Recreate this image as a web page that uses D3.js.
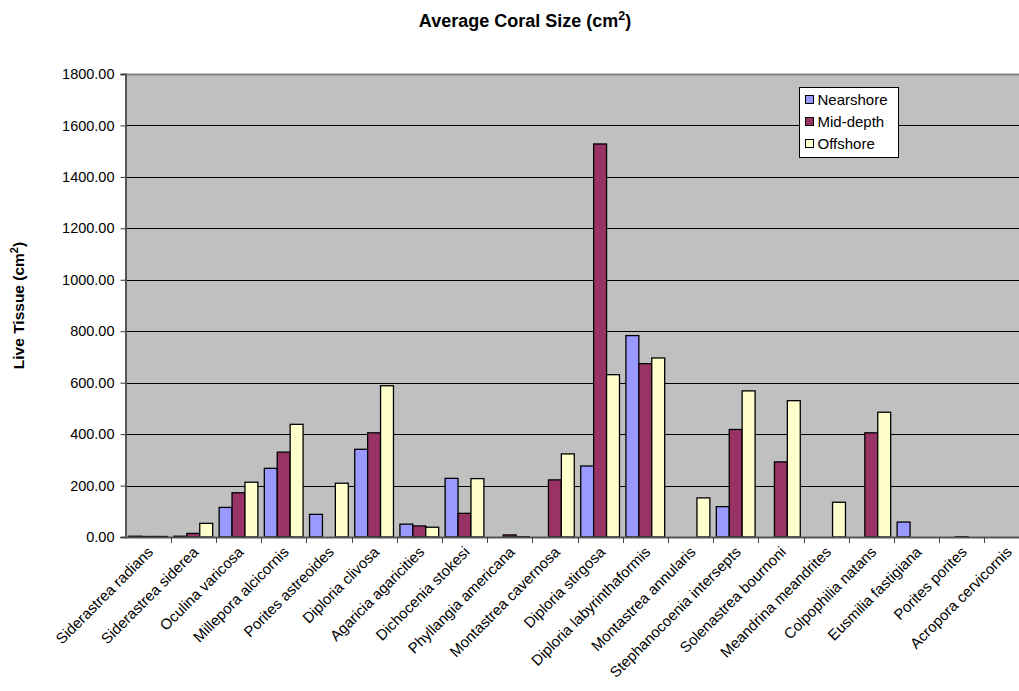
<!DOCTYPE html>
<html>
<head>
<meta charset="utf-8">
<script src="https://cdn.jsdelivr.net/npm/d3@7"></script>
<style>
  html, body { margin: 0; padding: 0; background: #ffffff; }
  svg { display: block; font-family: "Liberation Sans", Arial, sans-serif; }
</style>
</head>
<body>
<svg id="chart" width="1019" height="691"></svg>
<script>
// Coral species surveyed
const categories = [
  "Siderastrea radians", "Siderastrea siderea", "Oculina varicosa", "Millepora alcicornis",
  "Porites astreoides", "Diploria clivosa", "Agaricia agaricities", "Dichocenia stokesi",
  "Phyllangia americana", "Montastrea cavernosa", "Diploria stirgosa", "Diploria labyrinthaformis",
  "Montastrea annularis", "Stephanocoenia intersepts", "Solenastrea bournoni", "Meandrina meandrites",
  "Colpophilia natans", "Eusmilia fastigiana", "Porites porites", "Acropora cervicornis"
];

// Average live tissue per zone (cm²)
const nearshore = [3, 3, 115, 267, 88, 341, 50, 228, 0, 0, 276, 783, 0, 118, 0, 0, 0, 58, 0, 0];
const midDepth  = [2, 14, 172, 330, 0, 405, 43, 92, 8, 222, 1528, 674, 0, 418, 292, 0, 405, 0, 1, 0];
const offshore  = [2, 53, 213, 438, 209, 588, 38, 227, 1, 323, 631, 696, 152, 568, 530, 135, 485, 0, 0, 0];

const seriesNames = ["Nearshore", "Mid-depth", "Offshore"];
const seriesColors = ["#9999FF", "#993366", "#FFFFCC"];
const yTicks = [0, 200, 400, 600, 800, 1000, 1200, 1400, 1600, 1800];

const series = [nearshore, midDepth, offshore];

const svg = d3.select("#chart");
const plot = { left: 125.5, top: 74, bottom: 537, catWidth: 45.2 };
plot.right = plot.left + plot.catWidth * categories.length;

const x0 = d3.scaleBand()
  .domain(categories)
  .range([plot.left, plot.right])
  .paddingInner(0)
  .paddingOuter(0);

const x1 = d3.scaleBand()
  .domain(seriesNames)
  .range([0, x0.bandwidth()])
  .paddingOuter(0.25)
  .paddingInner(0);

const y = d3.scaleLinear().domain([0, 1800]).range([plot.bottom, plot.top]);

// plot background
svg.append("rect")
  .attr("x", plot.left).attr("y", plot.top)
  .attr("width", plot.right - plot.left).attr("height", plot.bottom - plot.top)
  .attr("fill", "#C0C0C0");

// gridlines
svg.append("g")
  .selectAll("line")
  .data(yTicks.filter(t => t > 0 && t < 1800))
  .join("line")
  .attr("x1", plot.left).attr("x2", plot.right)
  .attr("y1", d => Math.round(y(d)) + 0.5).attr("y2", d => Math.round(y(d)) + 0.5)
  .attr("stroke", "#000").attr("stroke-width", 1);

// top border
svg.append("line")
  .attr("x1", plot.left).attr("x2", plot.right)
  .attr("y1", plot.top + 0.5).attr("y2", plot.top + 0.5)
  .attr("stroke", "#808080").attr("stroke-width", 2);

// bars
const groups = svg.append("g")
  .selectAll("g")
  .data(categories)
  .join("g")
  .attr("transform", d => `translate(${x0(d)},0)`);

groups.selectAll("rect")
  .data((d, i) => seriesNames.map((s, k) => ({ s, v: series[k][i], k })))
  .join("rect")
  .attr("x", d => x1(d.s))
  .attr("y", d => y(d.v))
  .attr("width", x1.bandwidth())
  .attr("height", d => plot.bottom - y(d.v))
  .attr("fill", d => seriesColors[d.k])
  .attr("stroke", "#000")
  .attr("stroke-width", 1.3);

// y axis
const yAxis = svg.append("g")
  .attr("transform", `translate(${plot.left},0)`)
  .call(d3.axisLeft(y).tickValues(yTicks).tickFormat(d3.format(".2f")).tickSize(5).tickPadding(6));
yAxis.select(".domain").attr("stroke", "#555").attr("stroke-width", 2);
yAxis.selectAll(".tick line").attr("stroke", "#333");
yAxis.selectAll("text").attr("font-size", 14.5).attr("fill", "#000")
  .attr("font-family", "Liberation Sans, Arial, sans-serif");

// x axis line and boundary ticks
svg.append("line")
  .attr("x1", plot.left).attr("x2", plot.right)
  .attr("y1", plot.bottom + 0.5).attr("y2", plot.bottom + 0.5)
  .attr("stroke", "#555").attr("stroke-width", 2);

svg.append("g")
  .selectAll("line")
  .data(categories.slice(1))
  .join("line")
  .attr("x1", d => Math.round(x0(d)) + 0.5).attr("x2", d => Math.round(x0(d)) + 0.5)
  .attr("y1", plot.bottom).attr("y2", plot.bottom + 6)
  .attr("stroke", "#444");

// category labels, rotated
svg.append("g")
  .selectAll("text")
  .data(categories)
  .join("text")
  .attr("transform", d => `translate(${x0(d) + x0.bandwidth() / 2 + 6},${plot.bottom + 16}) rotate(-45)`)
  .attr("text-anchor", "end")
  .attr("font-size", 15)
  .attr("fill", "#000")
  .text(d => d);

// title
const title = svg.append("text")
  .attr("x", 525).attr("y", 27)
  .attr("text-anchor", "middle")
  .attr("font-size", 18).attr("font-weight", "bold");
title.append("tspan").text("Average Coral Size (cm");
title.append("tspan").attr("dy", -7).attr("font-size", 12.5).text("2");
title.append("tspan").attr("dy", 7).text(")");

// y axis title
const yTitle = svg.append("text")
  .attr("transform", `translate(24,${(plot.top + plot.bottom) / 2}) rotate(-90)`)
  .attr("text-anchor", "middle")
  .attr("font-size", 15.5).attr("font-weight", "bold");
yTitle.append("tspan").text("Live Tissue (cm");
yTitle.append("tspan").attr("dy", -6).attr("font-size", 11).text("2");
yTitle.append("tspan").attr("dy", 6).text(")");

// legend
const legend = svg.append("g").attr("transform", "translate(799.5,87.5)");
legend.append("rect")
  .attr("width", 99).attr("height", 70)
  .attr("fill", "#fff").attr("stroke", "#000").attr("stroke-width", 1);
const items = legend.selectAll("g.item")
  .data(seriesNames)
  .join("g")
  .attr("class", "item")
  .attr("transform", (d, i) => `translate(6,${8 + i * 22})`);
items.append("rect")
  .attr("width", 8).attr("height", 8)
  .attr("fill", (d, i) => seriesColors[i])
  .attr("stroke", "#000").attr("stroke-width", 1);
items.append("text")
  .attr("x", 12).attr("y", 9.5)
  .attr("font-size", 15)
  .text(d => d);
</script>
</body>
</html>
